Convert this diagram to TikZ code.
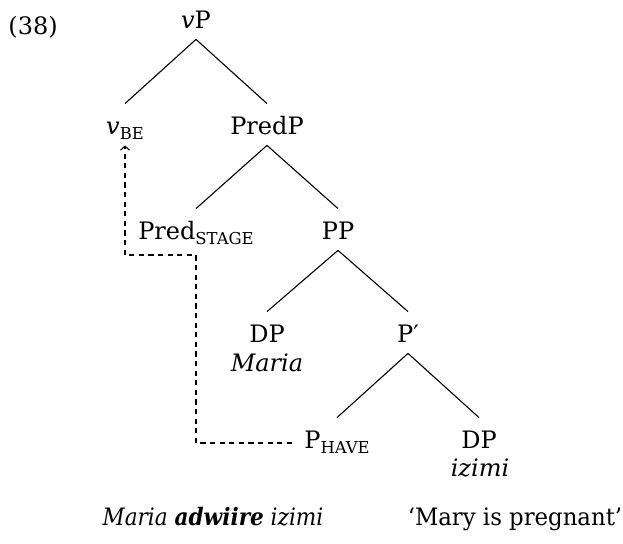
\documentclass[tikz,border=0pt]{standalone}
\usepackage{fontspec}
\setmainfont{DejaVu Serif}
\newfontfamily\narrowserif{DejaVu Serif}[FakeStretch=0.9]
\newfontfamily\glossserif{DejaVu Serif}[FakeStretch=0.95]
\usetikzlibrary{arrows.meta}

% small-caps style subscript, faked with reduced capitals
\newcommand{\lowsc}[1]{\raisebox{-2.5pt}{\fontsize{8.2}{9}\selectfont #1}}

\begin{document}
\begin{tikzpicture}[
  x=0.5pt, y=-0.5pt,
  every node/.style={font=\fontsize{12}{14}\selectfont},
  cat/.style={anchor=base, inner sep=0pt, text height=15.5pt, text depth=5pt},
  word/.style={anchor=base, inner sep=0pt},
  branch/.style={line width=0.55pt},
  movement/.style={line width=0.55pt, dash pattern=on 2.6pt off 2.2pt,
                   -{Straight Barb[length=2pt,width=4.5pt]}}
]
\useasboundingbox (0,0) rectangle (623,544);

% example number
\node[word, anchor=base west] (exno) at (8,35) {(38)};

% tree nodes
\node[cat] (vP)    at (196,29)  {\textit{v}P};
\node[cat] (vbe)   at (125,135) {\textit{v}\lowsc{BE}};
\node[cat] (predP) at (267,135) {PredP};
\node[cat] (pred)  at (196,240) {Pred\lowsc{STAGE}};
\node[cat] (PP)    at (338,240) {PP};
\node[cat] (dp1)   at (267,343) {DP};
\node[word] (maria) at (267,372) {\textit{Maria}};
\node[cat] (pbar)  at (408,343) {P′};
\node[cat] (phave) at (337,449) {P\lowsc{HAVE}};
\node[cat] (dp2)   at (479,449) {DP};
\node[word] (izimi) at (480,477) {\textit{izimi}};

% branches
\draw[branch] (vP.south) -- (vbe.north);
\draw[branch] (vP.south) -- (predP.north);
\draw[branch] (predP.south) -- (pred.north);
\draw[branch] (predP.south) -- (PP.north);
\draw[branch] (PP.south) -- (dp1.north);
\draw[branch] (PP.south) -- (pbar.north);
\draw[branch] (pbar.south) -- (phave.north);
\draw[branch] (pbar.south) -- (dp2.north);

% head movement path
\coordinate (bend) at (196,255);
\draw[movement] ([xshift=-6pt]phave.west |- 0,443) -| (bend) -| (vbe.south);

% example sentence and translation
\node[word] (sent) at (213,526) {\narrowserif\textit{Maria \textbf{adwiire} izimi}};
\node[word] (gloss) at (515,526) {\glossserif ‘Mary is pregnant’};
\end{tikzpicture}
\end{document}
